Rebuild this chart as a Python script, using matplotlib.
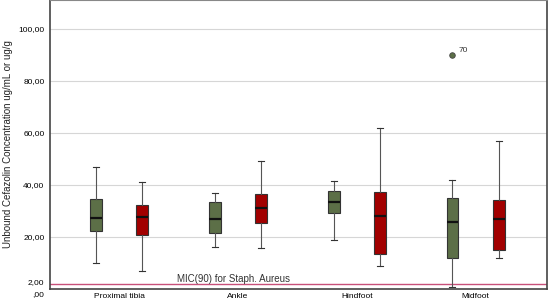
import matplotlib
matplotlib.use("Agg")
from matplotlib import pyplot as plt
from matplotlib.transforms import ScaledTranslation

plt.rcParams['font.family'] = ['Liberation Sans', 'DejaVu Sans']

sites = ["Proximal tibia", "Ankle", "Hindfoot", "Midfoot"]

# series 1 (green) and series 2 (red): whisker low, q1, median, q3, whisker high
green_low = [9.9, 16.3, 18.8, 0.8]
green_q1 = [22.3, 21.4, 29.2, 11.8]
green_med = [27.4, 26.8, 33.3, 25.9]
green_q3 = [34.7, 33.5, 37.8, 35.0]
green_high = [46.9, 37.0, 41.4, 42.0]
green_fliers = [[], [], [], [90.0]]
green_flier_ids = [[], [], [], ["70"]]

red_low = [7.0, 15.8, 9.0, 11.9]
red_q1 = [20.8, 25.4, 13.3, 15.1]
red_med = [27.6, 31.3, 28.1, 26.9]
red_q3 = [32.4, 36.7, 37.4, 34.1]
red_high = [41.0, 49.2, 61.9, 56.9]
red_fliers = [[], [], [], []]

mic90 = 2.0
yticks = [0, 2, 20, 40, 60, 80, 100]
ytick_labels = [",00", "2,00", "20,00", "40,00", "60,00", "80,00", "100,00"]


def make_stats(low, q1, med, q3, high, fliers):
    return [dict(whislo=a, q1=b, med=c, q3=d, whishi=e, fliers=f)
            for a, b, c, d, e, f in zip(low, q1, med, q3, high, fliers)]


fig = plt.figure(figsize=(5.54, 3.04), dpi=100)
ax = fig.add_axes([0.0903, 0.049, 0.897, 0.951])

pos = list(range(len(sites)))
off = 0.195
w = 0.1

for stats, shift, color in [
        (make_stats(green_low, green_q1, green_med, green_q3, green_high, green_fliers), -off, "#5c6f47"),
        (make_stats(red_low, red_q1, red_med, red_q3, red_high, red_fliers), off, "#a20000")]:
    ax.bxp(stats, positions=[p + shift for p in pos], widths=w, patch_artist=True,
           boxprops=dict(facecolor=color, edgecolor="#333333", linewidth=0.8),
           medianprops=dict(color="#111111", linewidth=1.6),
           whiskerprops=dict(color="#555555", linewidth=0.8),
           capprops=dict(color="#333333", linewidth=0.8),
           capwidths=0.05,
           flierprops=dict(marker="o", markersize=4, markerfacecolor="#5c6f47",
                           markeredgecolor="#444444", markeredgewidth=0.6),
           manage_ticks=False)

# outlier labels
for i, (vals, ids) in enumerate(zip(green_fliers, green_flier_ids)):
    for v, t in zip(vals, ids):
        ax.text(pos[i] - off + 0.05, v + 1.2, t, fontsize=6, color="#333333")

ax.axhline(mic90, color="#c8507a", linewidth=1.0, zorder=1)
ax.text(0.49, mic90 + 0.6, "MIC(90) for Staph. Aureus", fontsize=7, color="#333333")

ax.set_xlim(-0.58, 3.6)
ax.set_ylim(0, 111)
ax.set_xticks(pos)
ax.set_xticklabels(sites, fontsize=6)
ax.set_yticks(yticks)
ax.set_yticklabels(ytick_labels, fontsize=6)
ax.tick_params(axis="both", length=0, pad=3)
ax.tick_params(axis="y", pad=4)
# pull the two crowded labels at the bottom apart a little
ylabs = ax.get_yticklabels()
ylabs[0].set_transform(ylabs[0].get_transform() + ScaledTranslation(0, -3 / 72, fig.dpi_scale_trans))
ylabs[1].set_transform(ylabs[1].get_transform() + ScaledTranslation(0, 1.5 / 72, fig.dpi_scale_trans))
for y in [20, 40, 60, 80, 100]:
    ax.axhline(y, color="#d6d6d6", linewidth=0.8, zorder=0)
ax.set_ylabel("Unbound Cefazolin Concentration ug/mL or ug/g", fontsize=7, color="#222222")

for s in ["left", "bottom", "right"]:
    ax.spines[s].set_color("#444444")
    ax.spines[s].set_linewidth(1.2)
ax.spines["top"].set_color("#888888")

fig.savefig("out.png", dpi=100)
